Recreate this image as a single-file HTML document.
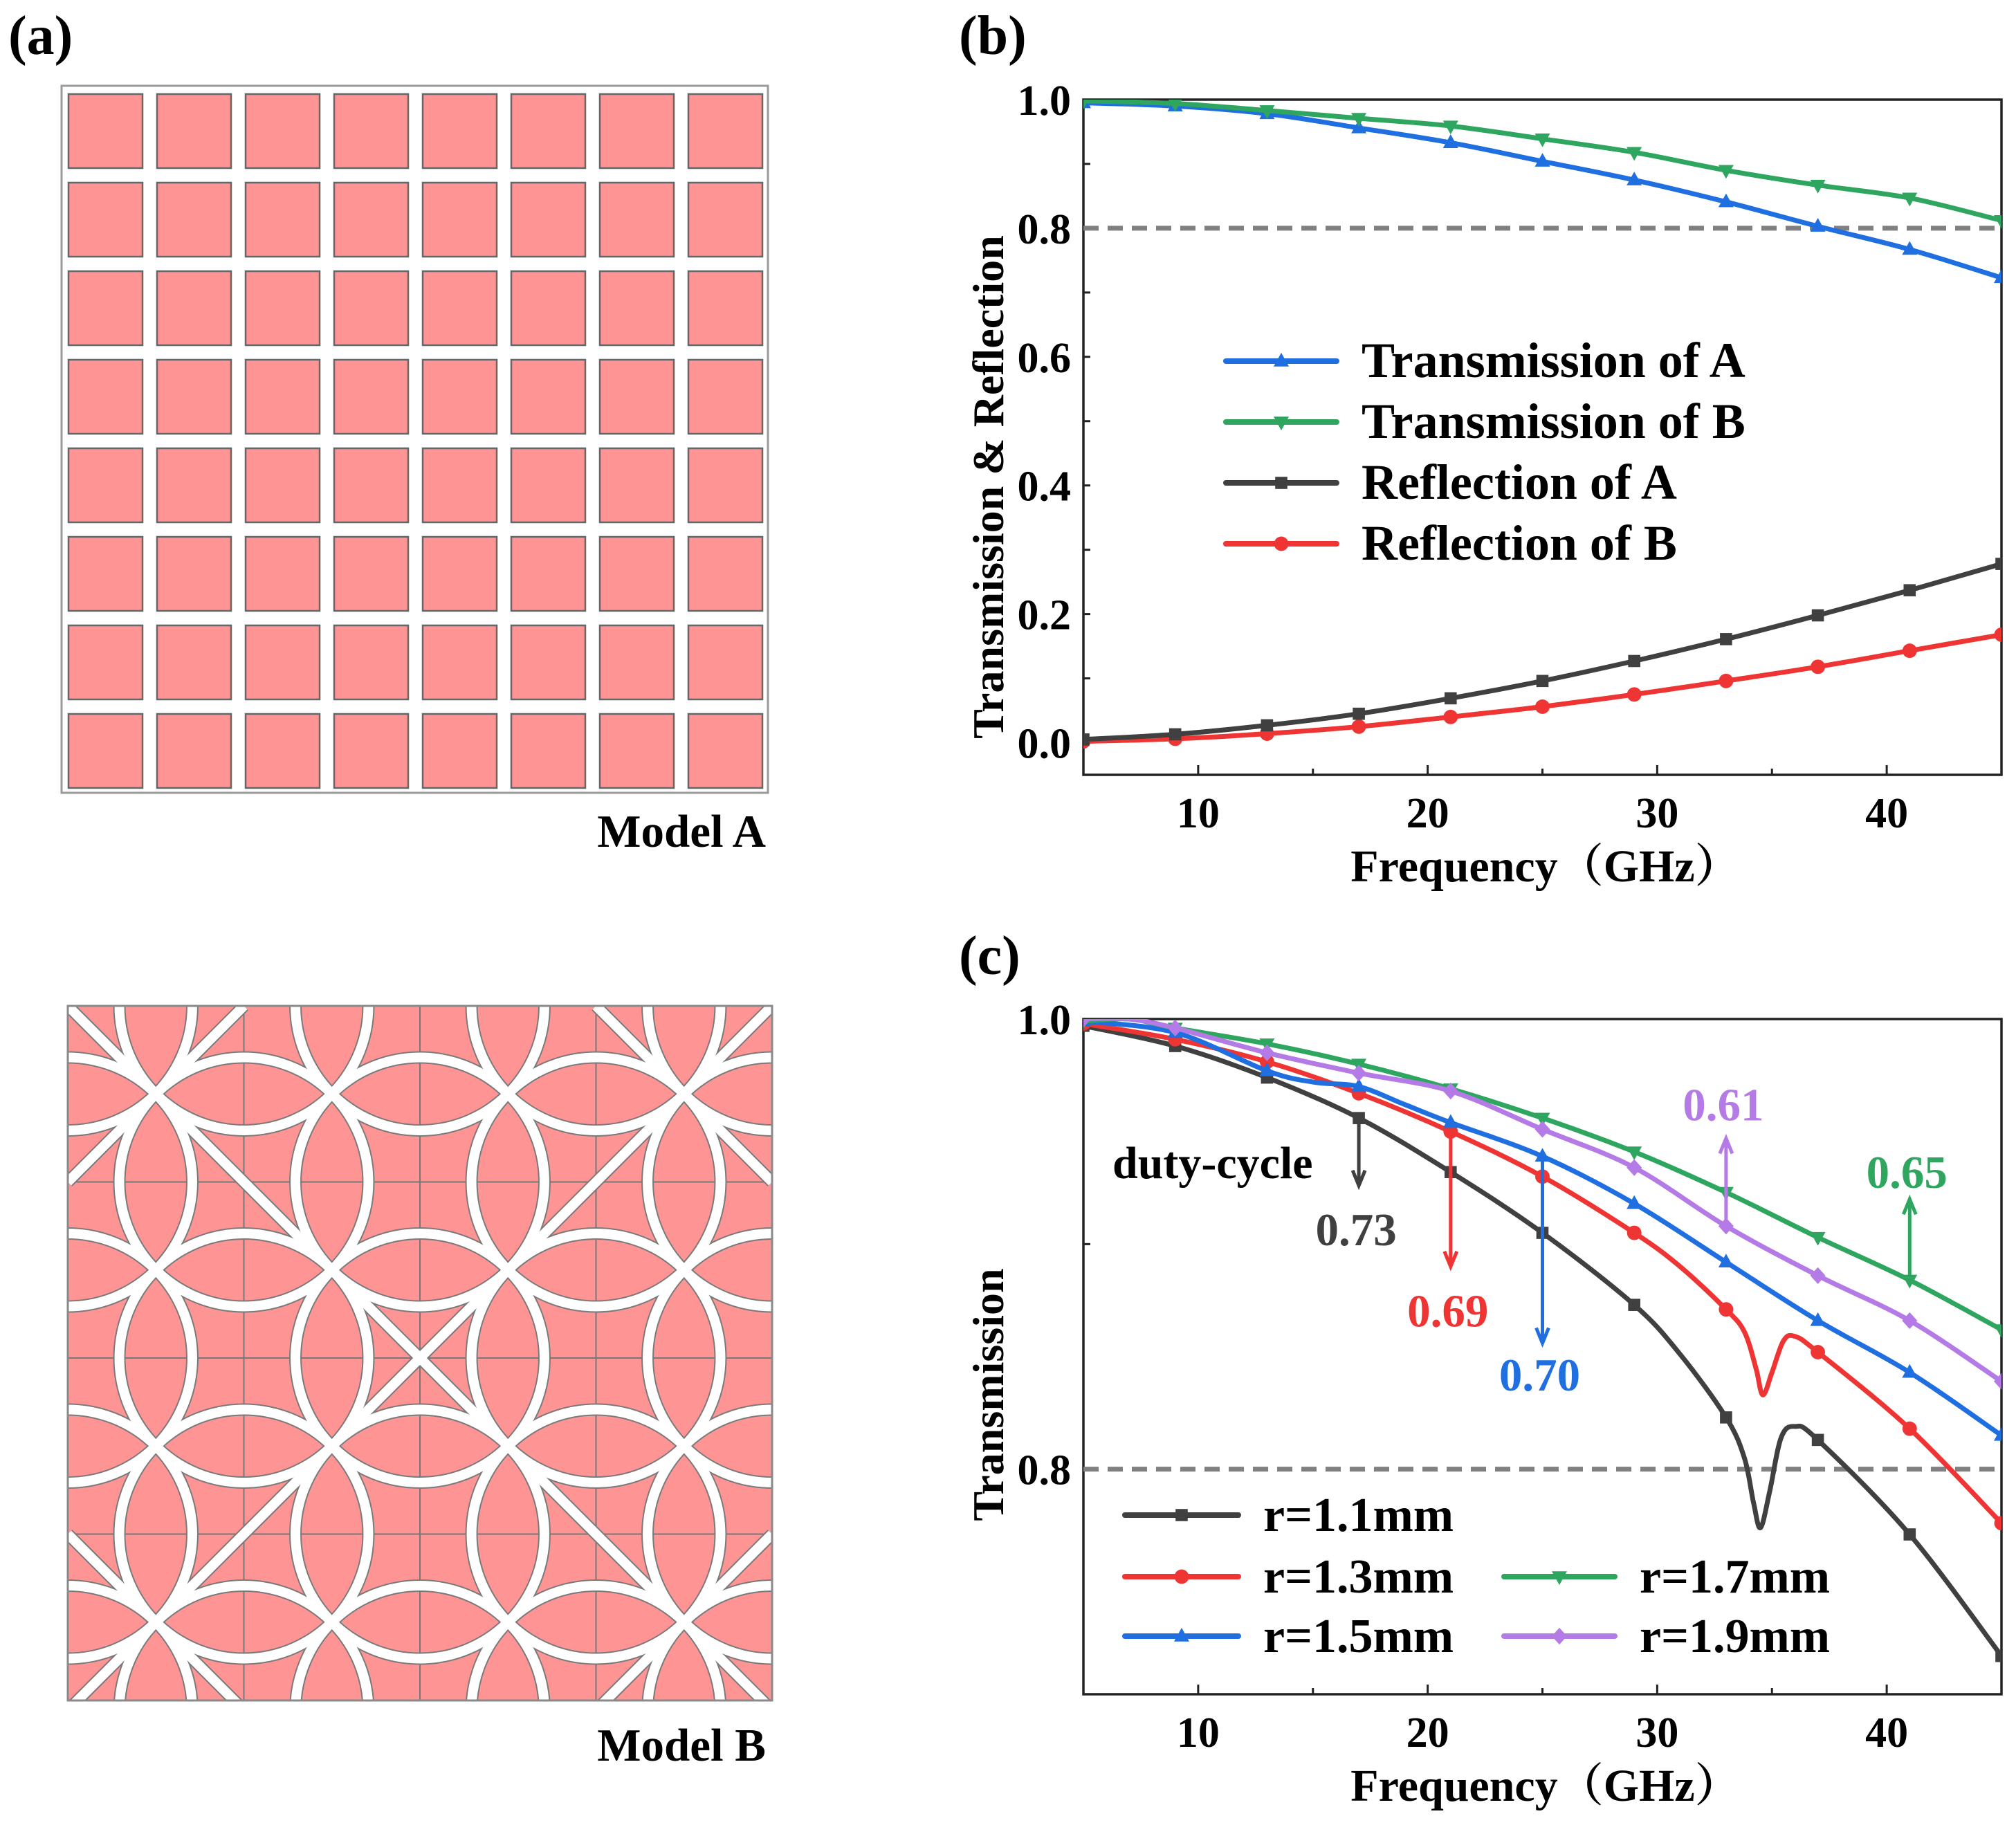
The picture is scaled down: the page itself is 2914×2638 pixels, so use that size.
<!DOCTYPE html>
<html><head><meta charset="utf-8">
<style>
html,body{margin:0;padding:0;background:#fff;}
svg{display:block;}
text{font-family:"Liberation Serif","Noto Serif CJK SC",serif;font-weight:bold;fill:#000;}
</style></head>
<body>
<svg id="fig" width="2914" height="2638" viewBox="0 0 2914 2638" xmlns="http://www.w3.org/2000/svg">
<defs>
<clipPath id="clipB"><rect x="1566" y="144" width="1327" height="976"/></clipPath>
<clipPath id="clipC"><rect x="1566" y="1473" width="1327" height="976"/></clipPath>
<clipPath id="clipModelB"><rect x="98" y="1454" width="1018" height="1004"/></clipPath>
</defs>
<text x="12" y="78" font-size="80">(a)</text>
<text x="1386" y="78" font-size="80">(b)</text>
<text x="1386" y="1408" font-size="80">(c)</text>
<g id="modelA"></g>
<text x="1107" y="1224" font-size="67" text-anchor="end">Model A</text>
<g id="modelB"></g>
<text x="1107" y="2545" font-size="67" text-anchor="end">Model B</text>
<g id="chartB"></g>
<g id="chartC"></g>
</svg>
<script>
// ---------- Chart (b) data ----------
const freqB = [5,9,13,17,21,25,29,33,37,41,45];
const transA = [0.995,0.990,0.978,0.956,0.933,0.904,0.875,0.841,0.803,0.767,0.723];
const transB = [0.998,0.994,0.983,0.971,0.959,0.939,0.918,0.890,0.867,0.847,0.812];
const reflA = [0.005,0.013,0.027,0.045,0.069,0.096,0.127,0.161,0.198,0.237,0.278];
const reflB = [0.002,0.006,0.014,0.025,0.040,0.056,0.075,0.096,0.118,0.143,0.168];
const yTicksB = [0.0,0.2,0.4,0.6,0.8,1.0];
const yTickLabelsB = ["0.0","0.2","0.4","0.6","0.8","1.0"];
const xTicks = [10,20,30,40];
const xTickLabels = ["10","20","30","40"];
const legendB = ["Transmission of A","Transmission of B","Reflection of A","Reflection of B"];

// ---------- Chart (c) data ----------
const markerFreqs = [5,9,13,17,21,25,29,33,37,41,45];
const f11 = [5,9,13,17,21,25,29,31,33,33.8,34.2,34.5,34.9,35.4,36,37,41,45];
const v11 = [0.997,0.988,0.974,0.956,0.932,0.905,0.873,0.851,0.823,0.805,0.785,0.774,0.790,0.814,0.819,0.813,0.771,0.717];
const f13 = [5,9,13,17,21,25,29,31,33,33.8,34.3,34.6,35.0,35.5,36,37,41,45];
const v13 = [0.998,0.991,0.981,0.967,0.950,0.930,0.905,0.890,0.871,0.861,0.845,0.833,0.843,0.857,0.859,0.852,0.818,0.776];
const f15 = [5,9,13,15,17,19,21,25,29,33,37,41,45];
const v15 = [0.999,0.994,0.977,0.972,0.970,0.962,0.954,0.939,0.918,0.892,0.866,0.843,0.815];
const f17 = [5,7,9,13,17,21,25,29,33,37,41,45];
const v17 = [0.999,1.0,0.996,0.989,0.980,0.969,0.956,0.941,0.923,0.903,0.884,0.862];
const f19 = [5,7,9,13,17,21,25,29,33,37,41,45];
const v19 = [1.0,1.0,0.996,0.985,0.976,0.968,0.951,0.934,0.908,0.886,0.866,0.839];
const yTicksC = [0.8,1.0];
const yTickLabelsC = ["0.8","1.0"];
const legendC = ["r=1.1mm","r=1.3mm","r=1.5mm","r=1.7mm","r=1.9mm"];
const annFreq = [17,21,25,33,41];
const annFrom = [0.956,0.950,0.939,0.908,0.884];
const annTo = [0.926,0.890,0.856,0.947,0.920];
const annLabels = ["0.73","0.69","0.70","0.61","0.65"];
const annLabelVal = [0.9066,0.8705,0.842,0.962,0.932];

const NS = "http://www.w3.org/2000/svg";
function mk(tag, attrs, parent){
  const e = document.createElementNS(NS, tag);
  for (const k in attrs) e.setAttribute(k, attrs[k]);
  if (parent) parent.appendChild(e);
  return e;
}
const COL = {blue:"#1f6fe0", green:"#2fa65f", gray:"#404040", red:"#ef3434", purple:"#b47ae6"};

// ---------- Model A ----------
(function(){
  const g = document.getElementById('modelA');
  const fr = mk('rect',{x:89,y:124,width:1021,height:1022,fill:'#fff',stroke:'#9a9a9a','stroke-width':3},g);
  
  
  for (let r=0;r<8;r++) for (let c=0;c<8;c++){
    const s = mk('rect',{x:99+c*128,y:136+r*128,width:107,height:107,fill:'#ff9494',stroke:'#666','stroke-width':2.5},g);
    
    
  }
})();

// ---------- Model B ----------
(function(){
  const g = document.getElementById('modelB');
  const X0=98, Y0=1454, P=254.5, R=P/Math.SQRT2;
  const bg = mk('rect',{x:X0,y:Y0,width:4*P,height:4*P-14,fill:'#ff9494',stroke:'#8a8a8a','stroke-width':3},g);
  
  
  const cg = mk('g',{'clip-path':'url(#clipModelB)'},g);
  for (let i=1;i<4;i++){
    const l1 = mk('line',{x1:X0+i*P,y1:Y0,x2:X0+i*P,y2:Y0+4*P,stroke:'#777','stroke-width':2},cg);
    
    
    const l2 = mk('line',{x1:X0,y1:Y0+i*P,x2:X0+4*P,y2:Y0+i*P,stroke:'#777','stroke-width':2},cg);
    
    
  }
  const shapes = [];
  for (let i=0;i<=4;i++) for (let j=0;j<=4;j++) shapes.push(['circle',{cx:X0+i*P,cy:Y0+j*P,r:R}]);
  const L=(a,b,c,d)=>shapes.push(['line',{x1:X0+a*P,y1:Y0+b*P,x2:X0+c*P,y2:Y0+d*P}]);
  L(0,0,4,4); L(4,0,0,4);
  L(1,0,0,1); L(3,0,4,1); L(0,3,1,4); L(4,3,3,4);
  [['#7a7a7a',18],['#ffffff',14]].forEach(([col,w])=>{
    shapes.forEach(([t,a])=>{
      const e = mk(t,Object.assign({fill:'none',stroke:col,'stroke-width':w},a),cg);
      
      
    });
  });
  mk('rect',{x:X0,y:Y0,width:4*P,height:4*P-14,fill:'none',stroke:'#8a8a8a','stroke-width':3},g);
})();

// ---------- helpers ----------
function smoothPath(pts){
  if (pts.length<2) return '';
  let d = 'M'+pts[0][0].toFixed(1)+','+pts[0][1].toFixed(1);
  for (let i=0;i<pts.length-1;i++){
    const p0=pts[Math.max(0,i-1)], p1=pts[i], p2=pts[i+1], p3=pts[Math.min(pts.length-1,i+2)];
    const t=1/6;
    const c1=[p1[0]+(p2[0]-p0[0])*t, p1[1]+(p2[1]-p0[1])*t];
    const c2=[p2[0]-(p3[0]-p1[0])*t, p2[1]-(p3[1]-p1[1])*t];
    d+=' C'+c1[0].toFixed(1)+','+c1[1].toFixed(1)+' '+c2[0].toFixed(1)+','+c2[1].toFixed(1)+' '+p2[0].toFixed(1)+','+p2[1].toFixed(1);
  }
  return d;
}
function marker(g, shape, x, y, col, s){
  let e;
  if (shape==='square') e = mk('rect',{x:x-s*0.8,y:y-s*0.8,width:s*1.6,height:s*1.6,fill:col},g);
  else if (shape==='circle') e = mk('circle',{cx:x,cy:y,r:s*0.95,fill:col},g);
  else if (shape==='up') e = mk('polygon',{points:`${x},${y-s*1.1} ${x-s},${y+s*0.7} ${x+s},${y+s*0.7}`,fill:col},g);
  else if (shape==='down') e = mk('polygon',{points:`${x},${y+s*1.1} ${x-s},${y-s*0.7} ${x+s},${y-s*0.7}`,fill:col},g);
  else e = mk('polygon',{points:`${x},${y-s*1.1} ${x+s},${y} ${x},${y+s*1.1} ${x-s},${y}`,fill:col},g);
  
  
}
function axes(g, L, T, W, H, xs, ys, yTicks, yLabels, yMinor, yTitle, yTitleCy){
  const fr = mk('rect',{x:L,y:T,width:W,height:H,fill:'none',stroke:'#222','stroke-width':3.5},g);
  
  
  for (let f=10; f<=40; f+=5){
    const len = f%10===0 ? 14 : 9;
    const t = mk('line',{x1:xs(f),y1:T+H,x2:xs(f),y2:T+H-len,stroke:'#222','stroke-width':3},g);
    
    
  }
  xTicks.forEach((v,i)=>{
    const t = mk('text',{x:xs(v),y:T+H+76,'font-size':62,'text-anchor':'middle'},g);
    t.textContent = xTickLabels[i];
    
    
  });
  yMinor.forEach(v=>{
    const t = mk('line',{x1:L,y1:ys(v),x2:L+10,y2:ys(v),stroke:'#222','stroke-width':3},g);
    
    
  });
  yTicks.forEach((v,i)=>{
    const t = mk('text',{x:L-18,y:ys(v)+22,'font-size':62,'text-anchor':'end'},g);
    t.textContent = yLabels[i];
    
    
  });
  const xt = mk('text',{x:2234,y:T+H+154,'font-size':66,'text-anchor':'middle'},g);
  xt.textContent = 'Frequency（GHz）';
  
  
  const yt = mk('text',{x:0,y:0,'font-size':64,'text-anchor':'middle',transform:`translate(1450,${yTitleCy}) rotate(-90)`},g);
  yt.textContent = yTitle;
  
  
}
function series(g, clip, xs, ys, fr, vals, col, shape, name){
  const sg = mk('g',{'clip-path':clip},g);
  
  
  const pts = fr.map((f,i)=>[xs(f),ys(vals[i])]);
  const p = mk('path',{d:smoothPath(pts),fill:'none',stroke:col,'stroke-width':7,'stroke-linejoin':'round'},sg);
  
  
  fr.forEach((f,i)=>{ if (markerFreqs.indexOf(f)>=0) marker(sg, shape, xs(f), ys(vals[i]), col, 11); });
}
function legendRow(g, x1, x2, y, col, shape, label, fs){
  const l = mk('line',{x1:x1,y1:y,x2:x2,y2:y,stroke:col,'stroke-width':8,'stroke-linecap':'round'},g);
  
  
  marker(g, shape, (x1+x2)/2, y, col, 11);
  const t = mk('text',{x:x2+36,y:y+23,'font-size':fs},g);
  t.textContent = label;
  
  
}

// ---------- Chart (b) ----------
(function(){
  const g = document.getElementById('chartB');
  const L=1566,T=144,W=1327,H=976;
  const xs = f => L + (f-5)/40*W;
  const ys = v => T + (1.0-v)/1.05*H;
  axes(g,L,T,W,H,xs,ys,yTicksB,yTickLabelsB,[0,0.1,0.2,0.3,0.4,0.5,0.6,0.7,0.8,0.9,1.0],'Transmission & Reflection',704);
  const dl = mk('line',{x1:L,y1:ys(0.8),x2:L+W,y2:ys(0.8),stroke:'#808080','stroke-width':7,'stroke-dasharray':'22 13'},g);
  
  
  series(g,'url(#clipB)',xs,ys,freqB,reflB,COL.red,'circle','series-reflection-b');
  series(g,'url(#clipB)',xs,ys,freqB,reflA,COL.gray,'square','series-reflection-a');
  series(g,'url(#clipB)',xs,ys,freqB,transA,COL.blue,'up','series-transmission-a');
  series(g,'url(#clipB)',xs,ys,freqB,transB,COL.green,'down','series-transmission-b');
  const lg = mk('g',{},g);
  
  
  const cols=[COL.blue,COL.green,COL.gray,COL.red], sh=['up','down','square','circle'], ry=[522,610,698,786];
  legendB.forEach((lab,i)=>legendRow(lg,1772,1932,ry[i],cols[i],sh[i],lab,72));
})();

// ---------- Chart (c) ----------
(function(){
  const g = document.getElementById('chartC');
  const L=1566,T=1473,W=1327,H=976;
  const xs = f => L + (f-5)/40*W;
  const ys = v => T + (1.0-v)/0.3*H;
  axes(g,L,T,W,H,xs,ys,yTicksC,yTickLabelsC,[0.8,0.9,1.0],'Transmission',2016);
  const dl = mk('line',{x1:L,y1:ys(0.8),x2:L+W,y2:ys(0.8),stroke:'#808080','stroke-width':7,'stroke-dasharray':'22 13'},g);
  
  
  series(g,'url(#clipC)',xs,ys,f11,v11,COL.gray,'square','series-r1-1');
  series(g,'url(#clipC)',xs,ys,f13,v13,COL.red,'circle','series-r1-3');
  series(g,'url(#clipC)',xs,ys,f15,v15,COL.blue,'up','series-r1-5');
  series(g,'url(#clipC)',xs,ys,f17,v17,COL.green,'down','series-r1-7');
  series(g,'url(#clipC)',xs,ys,f19,v19,COL.purple,'diamond','series-r1-9');
  const acol=[COL.gray,COL.red,COL.blue,COL.purple,COL.green];
  annFreq.forEach((f,i)=>{
    const x=xs(f), y1=ys(annFrom[i]), y2=ys(annTo[i]);
    const dir = y2>y1 ? 1 : -1;
    const a = mk('line',{x1:x,y1:y1,x2:x,y2:y2-dir*4,stroke:acol[i],'stroke-width':5},g);
    
    
    const h = mk('polyline',{points:`${x-9},${y2-dir*22} ${x},${y2} ${x+9},${y2-dir*22}`,fill:'none',stroke:acol[i],'stroke-width':5},g);
    
    
    const t = mk('text',{x:x-4,y:ys(annLabelVal[i])+23,'font-size':67,'text-anchor':'middle',style:'fill:'+acol[i]},g);
    t.textContent = annLabels[i];
    
    
  });
  const dc = mk('text',{x:1608,y:ys(0.936)+22,'font-size':66},g);
  dc.textContent = 'duty-cycle';
  
  
  const lg = mk('g',{},g);
  
  
  legendRow(lg,1626,1790,2190,COL.gray,'square',legendC[0],70);
  legendRow(lg,1626,1790,2279,COL.red,'circle',legendC[1],70);
  legendRow(lg,1626,1790,2365,COL.blue,'up',legendC[2],70);
  legendRow(lg,2174,2334,2279,COL.green,'down',legendC[3],70);
  legendRow(lg,2174,2334,2365,COL.purple,'diamond',legendC[4],70);
})();
</script>
</body></html>
